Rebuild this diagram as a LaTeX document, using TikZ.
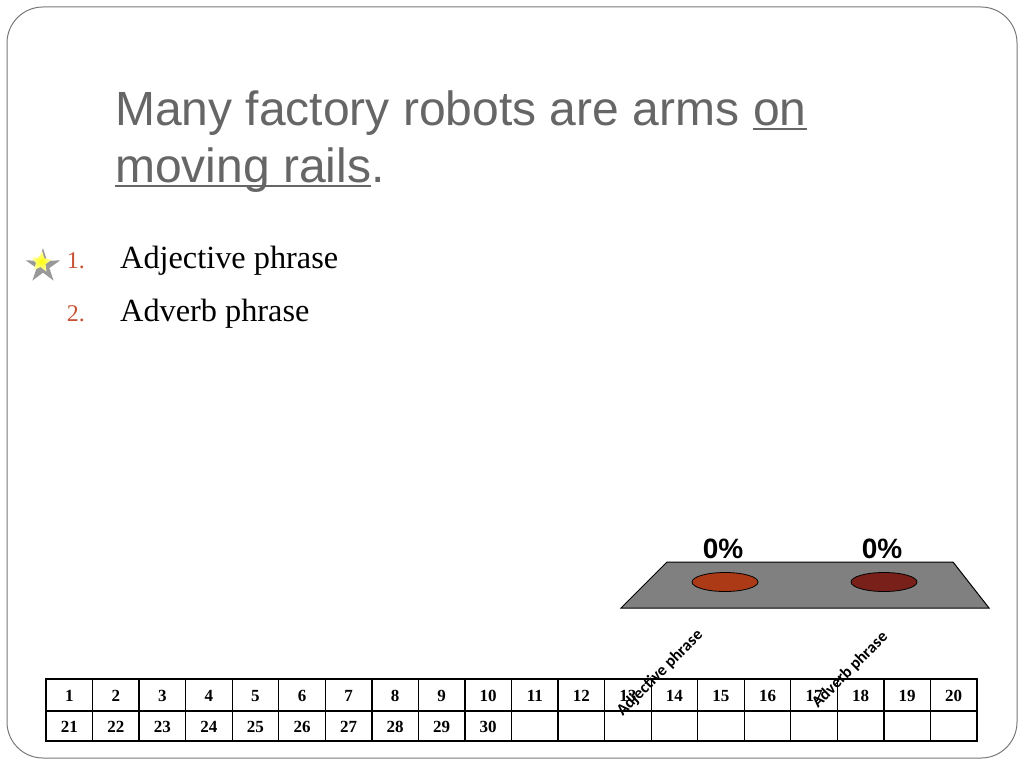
\documentclass[tikz,border=0pt]{standalone}
\usepackage{fontspec}
\setmainfont{Liberation Serif}
\newfontfamily\titlefont{Liberation Sans}
\newfontfamily\labfont{Carlito}
\usetikzlibrary{shapes.geometric,calc}
\definecolor{titlegray}{RGB}{102,102,102}
\definecolor{numred}{RGB}{200,82,52}
\definecolor{platform}{RGB}{128,128,128}
\definecolor{barone}{RGB}{172,58,22}
\definecolor{bartwo}{RGB}{122,32,26}
\definecolor{framegray}{RGB}{120,120,120}
\tikzset{
  titletext/.style={inner sep=0pt, anchor=base west, text=titlegray, font=\titlefont\fontsize{48}{58}\selectfont},
  itemnum/.style={inner sep=0pt, anchor=base east, text=numred, font=\fontsize{24}{28}\selectfont},
  itemtext/.style={inner sep=0pt, anchor=base west, text=black, font=\fontsize{32.3}{38}\selectfont},
  pct/.style={inner sep=0pt, anchor=base, font=\titlefont\bfseries\fontsize{28}{32}\selectfont},
  barlab/.style={inner sep=0pt, rotate=45, font=\labfont\bfseries\fontsize{16.5}{19}\selectfont},
  cellnum/.style={inner sep=0pt, anchor=base, font=\bfseries\fontsize{17}{20}\selectfont},
  disc/.style={ellipse, draw=black, line width=0.8pt, minimum width=66pt, minimum height=19pt, inner sep=0pt},
  uline/.style={titlegray, line width=2pt}
}
\begin{document}
\begin{tikzpicture}[x=1pt,y=-1pt]
\useasboundingbox (0,0) rectangle (1024,768);
\fill[white] (0,0) rectangle (1024,768);
\draw[framegray, line width=1pt, rounded corners=36pt] (7,7) rectangle (1017,758);

% title
\node[titletext] (t1) at (115,125) {Many factory robots are arms};
\node[titletext] (t2) at ($(t1.base east)+(13.3,0)$) {on};
\node[titletext] (t3) at (115,182) {moving rails};
\node[titletext] (t4) at (t3.base east) {.};
\draw[uline] ($(t2.base west)+(0,4)$) -- ($(t2.base east)+(0,4)$);
\draw[uline] ($(t3.base west)+(0,4)$) -- ($(t3.base east)+(0,4)$);

% list
\node[itemnum] (n1) at (85,268) {1.};
\node[itemtext] (i1) at (120,268) {Adjective phrase};
\node[itemnum] (n2) at (85,321) {2.};
\node[itemtext] (i2) at (120,321) {Adverb phrase};

% star
\node[star, star points=5, star point ratio=2.7, minimum size=36pt, inner sep=0pt, fill=gray!80] (sg) at (43,266) {};
\node[star, star points=5, star point ratio=2.2, minimum size=22pt, inner sep=0pt, rotate=-6, shading=radial, inner color=yellow, outer color=yellow!25!white] (sy) at (41,262) {};

% chart
\draw[fill=platform, line width=1pt] (667,562) -- (953,562) -- (989,608) -- (621,608) -- cycle;
\node[disc, fill=barone] (d1) at (725,582) {};
\node[disc, fill=bartwo] (d2) at (884,582) {};
\node[pct] (p1) at (723,558) {0\%};
\node[pct] (p2) at (882,558) {0\%};

% table
\draw[line width=1.3pt] (46,679) rectangle (977,741);
\draw[line width=1.3pt] (46,711) -- (977,711);
\foreach \k in {1,...,19} {
  \draw[line width=1.3pt] ({46+\k*46.55},679) -- ({46+\k*46.55},741);
}
\foreach \k in {1,...,20} {
  \node[cellnum] (c\k) at ({46+(\k-0.5)*46.55},701.5) {\k};
}
\foreach \k in {21,...,30} {
  \node[cellnum] (c\k) at ({46+(\k-20.5)*46.55},732) {\k};
}

% bar labels
\node[barlab] (l1) at (660,673) {Adjective phrase};
\node[barlab] (l2) at (850,670) {Adverb phrase};
\end{tikzpicture}
\end{document}
